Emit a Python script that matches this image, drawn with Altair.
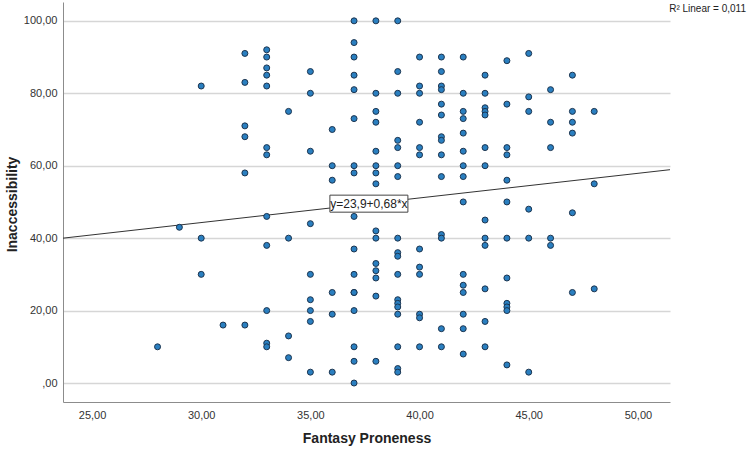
import altair as alt
import pandas as pd

# Fantasy Proneness scores (x) and Inaccessibility values (y) per score column
scores = [28, 29, 30, 31, 32, 33, 34, 35, 36, 37, 38, 39, 40, 41, 42, 43, 44, 45, 46, 47, 48]
inacc_28 = [10]
inacc_29 = [43]
inacc_30 = [82, 40, 30]
inacc_31 = [16]
inacc_32 = [91, 83, 71, 68, 58, 16]
inacc_33 = [92, 90, 87, 85, 82, 65, 63, 46, 38, 20, 11, 10]
inacc_34 = [75, 40, 13, 7]
inacc_35 = [86, 80, 64, 44, 30, 23, 20, 17, 3]
inacc_36 = [70, 60, 56, 25, 19, 3]
inacc_37 = [100, 94, 90, 85, 81, 73, 60, 58, 46, 37, 30, 25, 25, 20, 10, 6, 0]
inacc_38 = [100, 80, 75, 72, 64, 60, 58, 55, 42, 40, 33, 31, 29, 24, 6]
inacc_39 = [100, 86, 80, 67, 65, 60, 57, 40, 36, 35, 30, 23, 22, 21, 19, 10, 4, 3]
inacc_40 = [90, 82, 80, 72, 65, 63, 37, 32, 30, 19, 18, 10]
inacc_41 = [90, 86, 82, 81, 77, 74, 68, 67, 63, 57, 41, 40, 15, 10]
inacc_42 = [90, 80, 75, 73, 69, 64, 60, 57, 50, 30, 27, 25, 19, 15, 8]
inacc_43 = [85, 80, 76, 75, 74, 65, 60, 45, 40, 38, 26, 17, 10]
inacc_44 = [89, 77, 65, 63, 56, 50, 40, 29, 22, 21, 20, 5]
inacc_45 = [91, 79, 75, 48, 40, 3]
inacc_46 = [81, 72, 65, 40, 38]
inacc_47 = [85, 75, 72, 69, 47, 25]
inacc_48 = [75, 55, 26]

columns = [inacc_28, inacc_29, inacc_30, inacc_31, inacc_32, inacc_33, inacc_34,
           inacc_35, inacc_36, inacc_37, inacc_38, inacc_39, inacc_40, inacc_41,
           inacc_42, inacc_43, inacc_44, inacc_45, inacc_46, inacc_47, inacc_48]

x_ticks = [25, 30, 35, 40, 45, 50]
y_ticks = [0, 20, 40, 60, 80, 100]

intercept = 23.9
slope = 0.68
x_domain = [23.67, 51.47]
y_domain = [-5.24, 105.2]
label_x = 37.68

rows = []
for s, col in zip(scores, columns):
    for v in col:
        rows.append({"fantasy": s, "inacc": v})
points_df = pd.DataFrame(rows)

line_df = pd.DataFrame({"fantasy": x_domain,
                        "inacc": [intercept + slope * x for x in x_domain]})
label_df = pd.DataFrame({"fantasy": [label_x],
                         "inacc": [intercept + slope * label_x],
                         "text": ["y=23,9+0,68*x"]})

FONT = "Liberation Sans, Arial, sans-serif"

xscale = alt.Scale(domain=x_domain, nice=False, zero=False)
yscale = alt.Scale(domain=y_domain, nice=False, zero=False)

xaxis = alt.Axis(values=x_ticks, grid=False, ticks=False, domainColor="#8c8c8c",
                 labelExpr="replace(format(datum.value, '.2f'), '.', ',')",
                 labelFont=FONT, labelFontSize=11, labelColor="#333333", labelPadding=7,
                 title="Fantasy Proneness", titleFont=FONT, titleFontSize=14,
                 titleFontWeight="bold", titleColor="#222222", titleY=36,
                 titleBaseline="middle")
yaxis = alt.Axis(values=y_ticks, grid=True, gridColor="#d6d6d6", gridWidth=1.5,
                 ticks=False, domainColor="#8c8c8c",
                 labelExpr="datum.value == 0 ? ',00' : replace(format(datum.value, '.2f'), '.', ',')",
                 labelFont=FONT, labelFontSize=11, labelColor="#333333", labelPadding=6,
                 title="Inaccessibility", titleFont=FONT, titleFontSize=14,
                 titleFontWeight="bold", titleColor="#222222", titleX=-44, titleY=202)

points = alt.Chart(points_df).mark_circle(
    size=36, color="#2a7fc0", opacity=1, stroke="#1c3550", strokeWidth=1
).encode(
    x=alt.X("fantasy:Q", scale=xscale, axis=xaxis),
    y=alt.Y("inacc:Q", scale=yscale, axis=yaxis),
)

line = alt.Chart(line_df).mark_line(color="#333333", strokeWidth=1).encode(
    x=alt.X("fantasy:Q", scale=xscale, axis=xaxis),
    y=alt.Y("inacc:Q", scale=yscale, axis=yaxis),
)

box = alt.Chart(label_df).mark_point(
    shape="M-1,-0.218L1,-0.218L1,0.218L-1,0.218Z", size=6084, filled=True,
    fill="white", stroke="#444444", strokeWidth=1, opacity=1
).encode(
    x=alt.X("fantasy:Q", scale=xscale, axis=xaxis),
    y=alt.Y("inacc:Q", scale=yscale, axis=yaxis),
)

label = alt.Chart(label_df).mark_text(
    fontSize=12, font=FONT, color="#222222", align="center", baseline="middle"
).encode(
    x=alt.X("fantasy:Q", scale=xscale, axis=xaxis),
    y=alt.Y("inacc:Q", scale=yscale, axis=yaxis),
    text="text:N",
)

r2 = alt.Chart(pd.DataFrame({"t": ["R² Linear = 0,011"]})).mark_text(
    fontSize=10, font=FONT, color="#222222", align="right", baseline="middle"
).encode(x=alt.value(683), y=alt.value(7), text="t:N")

chart = alt.layer(line, points, box, label, r2).properties(
    width=607, height=400,
    padding={"left": 63, "top": 2, "right": 79, "bottom": 48},
    autosize="none",
).configure_view(stroke="#ffffff", strokeWidth=1)

chart.save("out.html", embed_options={"renderer": "svg", "actions": False})
